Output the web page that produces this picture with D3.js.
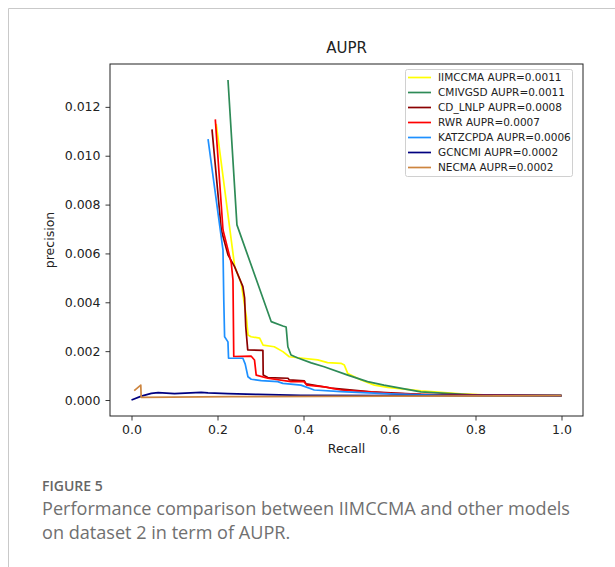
<!DOCTYPE html>
<html>
<head>
<meta charset="utf-8">
<script src="https://cdn.jsdelivr.net/npm/d3@7"></script>
<style>
  html, body { margin: 0; padding: 0; background: #fff; }
  svg { display: block; }
  .tick text { font-family: "DejaVu Sans", sans-serif; font-size: 12.5px; fill: #222; }
</style>
</head>
<body>
<div id="chart"></div>
<script>
// ---- data (recall, precision)
const models = ["IIMCCMA", "CMIVGSD", "CD_LNLP", "RWR", "KATZCPDA", "GCNCMI", "NECMA"];
const aupr = ["0.0011", "0.0011", "0.0008", "0.0007", "0.0006", "0.0002", "0.0002"];

const iimccma = [[0.197, 0.0113], [0.240, 0.00546], [0.255, 0.00479], [0.267, 0.00341], [0.271, 0.00266],
  [0.278, 0.00259], [0.298, 0.00253], [0.306, 0.00225], [0.332, 0.00218], [0.352, 0.00198], [0.367, 0.00177],
  [0.387, 0.00173], [0.433, 0.00164], [0.456, 0.00153], [0.487, 0.00150], [0.495, 0.00143], [0.503, 0.00108],
  [0.534, 0.00082], [0.565, 0.00061], [0.596, 0.00052], [0.673, 0.00037], [0.766, 0.00025], [0.858, 0.00018],
  [1.0, 0.000176]];
const cmivgsd = [[0.2244, 0.0131], [0.2452, 0.00717], [0.2824, 0.00532], [0.3248, 0.00321], [0.352, 0.00303],
  [0.3596, 0.00299], [0.3636, 0.00218], [0.371, 0.00184], [0.387, 0.00172], [0.418, 0.00152], [0.448, 0.00136],
  [0.503, 0.00102], [0.549, 0.00075], [0.587, 0.00061], [0.673, 0.00033], [0.812, 0.00019], [1.0, 0.000176]];
const cdlnlp = [[0.1872, 0.01108], [0.2088, 0.00696], [0.2244, 0.00594], [0.2397, 0.00546], [0.259, 0.00464],
  [0.263, 0.00418], [0.2657, 0.00300], [0.2703, 0.00205], [0.3056, 0.00203], [0.3063, 0.00102], [0.317, 0.00092],
  [0.364, 0.00089], [0.367, 0.00082], [0.402, 0.00078], [0.406, 0.00066], [0.464, 0.00049], [0.557, 0.00033],
  [0.673, 0.00023], [1.0, 0.000176]];
const rwr = [[0.1949, 0.01149], [0.2128, 0.00696], [0.232, 0.00561], [0.236, 0.00491], [0.2378, 0.00178],
  [0.278, 0.00180], [0.286, 0.00164], [0.290, 0.00102], [0.317, 0.00089], [0.371, 0.00075], [0.401, 0.00075],
  [0.408, 0.00061], [0.449, 0.00054], [0.487, 0.00041], [0.534, 0.00035], [0.603, 0.00027], [0.719, 0.00020],
  [1.0, 0.000176]];
const katzcpda = [[0.178, 0.01068], [0.2128, 0.00614], [0.2146, 0.00410], [0.2165, 0.00259], [0.2243, 0.00238],
  [0.2257, 0.00171], [0.259, 0.00171], [0.2645, 0.00147], [0.2708, 0.00095], [0.2784, 0.00085], [0.3016, 0.00079],
  [0.340, 0.00075], [0.352, 0.00068], [0.394, 0.00061], [0.425, 0.00041], [0.487, 0.00034], [0.603, 0.00025],
  [0.742, 0.00018], [1.0, 0.000176]];
const gcncmi = [[0, 0], [0.023, 0.00016], [0.046, 0.00027], [0.062, 0.00030], [0.100, 0.00026], [0.162, 0.00031],
  [0.178, 0.00029], [0.224, 0.00026], [0.294, 0.00023], [0.394, 0.00019], [0.626, 0.00018], [1.0, 0.000176]];
const necma = [[0.0063, 0.00038], [0.0216, 0.00061], [0.0225, 0.00011], [0.232, 0.000135], [0.6, 0.00016],
  [1.0, 0.000176]];

const seriesData = [iimccma, cmivgsd, cdlnlp, rwr, katzcpda, gcncmi, necma];
const xTicks = [0, 0.2, 0.4, 0.6, 0.8, 1.0];
const yTicks = [0, 0.002, 0.004, 0.006, 0.008, 0.010, 0.012];

// ---- styles
const colors = ["#ffff00", "#2e8b57", "#8b0000", "#ff0000", "#1e90ff", "#000080", "#cd853f"];
const width = 615, height = 567;
const box = { left: 110, right: 583, top: 64, bottom: 416 };

const svg = d3.select("#chart").append("svg")
  .attr("width", width)
  .attr("height", height);

svg.append("rect").attr("width", width).attr("height", height).attr("fill", "#fff");

// card border
svg.append("path")
  .attr("d", "M8.5," + height + "V8.5H" + width)
  .attr("fill", "none")
  .attr("stroke", "#c9c9c9")
  .attr("stroke-width", 1);

const x = d3.scaleLinear().domain([-0.05, 1.05]).range([box.left, box.right]);
const y = d3.scaleLinear().domain([-0.000655, 0.013755]).range([box.bottom, box.top]);

const plot = svg.append("g");

plot.append("defs").append("clipPath").attr("id", "clip")
  .append("rect")
  .attr("x", box.left).attr("y", box.top)
  .attr("width", box.right - box.left).attr("height", box.bottom - box.top);

const line = d3.line().x(d => x(d[0])).y(d => y(d[1]));

plot.append("g").attr("clip-path", "url(#clip)")
  .selectAll("path")
  .data(seriesData)
  .enter()
    .append("path")
    .attr("d", line)
    .attr("fill", "none")
    .attr("stroke", (_, i) => colors[i])
    .attr("stroke-width", 1.7)
    .attr("stroke-linejoin", "round");

// axes
const xAxis = plot.append("g")
  .attr("transform", "translate(0," + box.bottom + ")")
  .call(d3.axisBottom(x).tickValues(xTicks).tickFormat(d3.format(".1f")).tickSize(4.5).tickPadding(5));
const yAxis = plot.append("g")
  .attr("transform", "translate(" + box.left + ",0)")
  .call(d3.axisLeft(y).tickValues(yTicks).tickFormat(d3.format(".3f")).tickSize(4.5).tickPadding(5));

[xAxis, yAxis].forEach(a => {
  a.select(".domain").remove();
  a.selectAll(".tick line").attr("stroke", "#222").attr("stroke-width", 0.9);
});

plot.append("rect")
  .attr("x", box.left).attr("y", box.top)
  .attr("width", box.right - box.left).attr("height", box.bottom - box.top)
  .attr("fill", "none")
  .attr("stroke", "#222")
  .attr("stroke-width", 1);

// titles
svg.append("text")
  .attr("x", (box.left + box.right) / 2).attr("y", 53)
  .attr("text-anchor", "middle")
  .style("font", "15px 'DejaVu Sans', sans-serif")
  .attr("fill", "#222")
  .text("AUPR");

svg.append("text")
  .attr("x", (box.left + box.right) / 2).attr("y", 453)
  .attr("text-anchor", "middle")
  .style("font", "12.5px 'DejaVu Sans', sans-serif")
  .attr("fill", "#222")
  .text("Recall");

svg.append("text")
  .attr("transform", "translate(54," + (box.top + box.bottom) / 2 + ") rotate(-90)")
  .attr("text-anchor", "middle")
  .style("font", "12.5px 'DejaVu Sans', sans-serif")
  .attr("fill", "#222")
  .text("precision");

// legend
const lg = svg.append("g");
lg.append("rect")
  .attr("x", 405.5).attr("y", 69.5)
  .attr("width", 167).attr("height", 107)
  .attr("rx", 2)
  .attr("fill", "#fff").attr("fill-opacity", 0.8)
  .attr("stroke", "#d0d0d0");

const item = lg.selectAll("g.item")
  .data(models)
  .enter()
    .append("g")
    .attr("class", "item")
    .attr("transform", (_, i) => "translate(0," + (77.5 + 15 * i) + ")");

item.append("line")
  .attr("x1", 408).attr("x2", 431)
  .attr("stroke", (_, i) => colors[i])
  .attr("stroke-width", 1.7);

item.append("text")
  .attr("x", 438).attr("y", 3.8)
  .style("font", "10.5px 'DejaVu Sans', sans-serif")
  .attr("fill", "#222")
  .text((d, i) => d + " AUPR=" + aupr[i]);

// caption
svg.append("text")
  .attr("x", 42).attr("y", 491)
  .style("font", "600 14px 'Open Sans', sans-serif")
  .attr("fill", "#666")
  .text("FIGURE 5");

svg.append("text")
  .attr("x", 42).attr("y", 515)
  .style("font", "18.1px 'Open Sans', sans-serif")
  .attr("fill", "#707070")
  .text("Performance comparison between IIMCCMA and other models");

svg.append("text")
  .attr("x", 42).attr("y", 539)
  .style("font", "18.1px 'Open Sans', sans-serif")
  .attr("fill", "#707070")
  .text("on dataset 2 in term of AUPR.");
</script>
</body>
</html>
